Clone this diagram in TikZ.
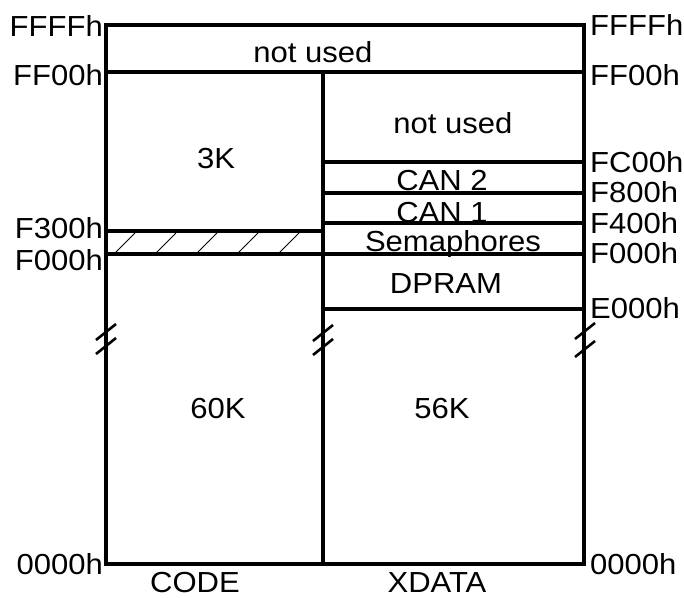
\documentclass[tikz,border=0pt]{standalone}
\usepackage{fontspec}
\setmainfont[FakeStretch=1.07]{Liberation Sans}
\begin{document}
\begin{tikzpicture}[x=1pt,y=-1pt,
  thick line/.style={line width=3.4pt},
  hatch/.style={line width=0.9pt},
  brk/.style={line width=2.6pt},
  lbl/.style={inner sep=0pt,font=\fontsize{29}{33}\selectfont},
  lleft/.style={lbl,anchor=base east},
  lright/.style={lbl,anchor=base west},
  ctext/.style={lbl,anchor=base}]
\useasboundingbox (0,0) rectangle (684,597);
% coordinates
\coordinate (TL) at (106,25);
\coordinate (BR) at (584,564);
% frame
\draw[thick line] (TL) rectangle (BR);
\draw[thick line] (106,72) -- (584,72);
\draw[thick line] (323,72) -- (323,564);
% right column lines
\draw[thick line] (323,162) -- (584,162);
\draw[thick line] (323,193) -- (584,193);
\draw[thick line] (323,223) -- (584,223);
\draw[thick line] (106,254) -- (584,254);
\draw[thick line] (323,309) -- (584,309);
% left F300
\draw[thick line] (106,231) -- (323,231);
% hatch
\foreach \x in {115,156,197,238,279}
  \draw[hatch] (\x,253) -- (\x+20,233);
% breaks
\foreach \x/\ya/\yb in {106/332/346, 323/333/347, 585/331/349}{
  \draw[brk] (\x-10,\ya+8) -- (\x+10,\ya-8);
  \draw[brk] (\x-10,\yb+8) -- (\x+10,\yb-8);
}
% left labels
\node[lleft] (lFFFF) at (103,36) {FFFFh};
\node[lleft] (lFF00) at (103,85) {FF00h};
\node[lleft] (lF300) at (103,238) {F300h};
\node[lleft] (lF000) at (103,270) {F000h};
\node[lleft] (l0000) at (103,574) {0000h};
% right labels
\node[lright] (rFFFF) at (590,35) {FFFFh};
\node[lright] (rFF00) at (590,85) {FF00h};
\node[lright] (rFC00) at (590,172) {FC00h};
\node[lright] (rF800) at (590,202) {F800h};
\node[lright] (rF400) at (590,233) {F400h};
\node[lright] (rF000) at (590,263) {F000h};
\node[lright] (rE000) at (590,318) {E000h};
\node[lright] (r0000) at (590,574) {0000h};
% region texts
\node[ctext] (nu1) at (313,62) {not used};
\node[ctext] (nu2) at (453,133) {not used};
\node[ctext] (k3) at (216,168) {3K};
\node[ctext] (can2) at (442,190) {CAN 2};
\node[ctext] (can1) at (442,222) {CAN 1};
\node[ctext] (sem) at (453,251) {Semaphores};
\node[ctext] (dpram) at (446,293) {DPRAM};
\node[ctext] (k60) at (218,418) {60K};
\node[ctext] (k56) at (442,418) {56K};
\node[ctext] (code) at (195,592) {CODE};
\node[ctext] (xdata) at (437,592) {XDATA};
\end{tikzpicture}
\end{document}
